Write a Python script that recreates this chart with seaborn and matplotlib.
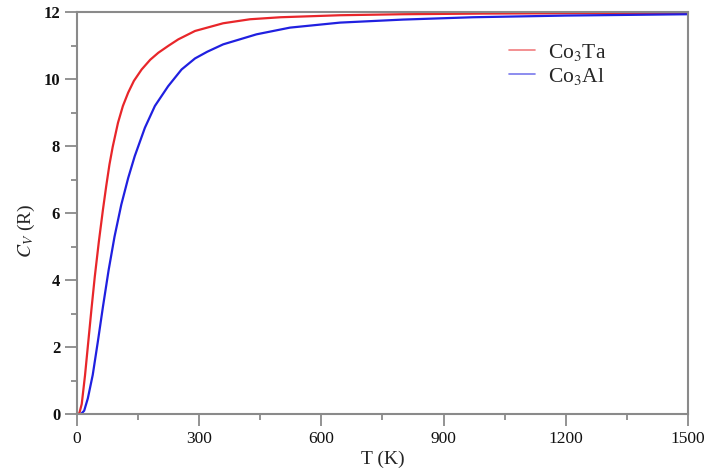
import matplotlib
matplotlib.use("Agg")
import matplotlib.pyplot as plt
import seaborn as sns
import pandas as pd
from matplotlib.ticker import MultipleLocator
from matplotlib.lines import Line2D

# Data
t_ta = [0, 6, 12, 20, 28, 36, 44, 54, 64, 72, 80, 88, 101, 113, 126, 140, 159, 180,
        200, 225, 249, 290, 359, 425, 500, 646, 800, 1000, 1200, 1500]
cv_ta = [0, 0.02, 0.3, 1.15, 2.15, 3.15, 4.1, 5.15, 6.1, 6.8, 7.45, 7.98, 8.7, 9.2, 9.6,
         9.95, 10.29, 10.58, 10.79, 11.0, 11.19, 11.44, 11.67, 11.79, 11.85, 11.91,
         11.94, 11.96, 11.97, 11.98]
t_al = [0, 10, 18, 27, 39, 51.5, 64, 78, 92.5, 109, 126, 142, 167, 191.5, 224, 257,
        290, 320, 359, 441, 523, 646, 800, 972, 1200, 1500]
cv_al = [0, 0, 0.1, 0.47, 1.17, 2.16, 3.2, 4.3, 5.3, 6.25, 7.05, 7.7, 8.55, 9.2, 9.79,
         10.29, 10.62, 10.82, 11.04, 11.34, 11.54, 11.69, 11.78, 11.85, 11.9, 11.94]
labels = ["Co$_3$Ta", "Co$_3$Al"]
colors = ["#e8262a", "#2020e0"]

df = pd.concat([
    pd.DataFrame({"T": t_ta, "Cv": cv_ta, "s": labels[0]}),
    pd.DataFrame({"T": t_al, "Cv": cv_al, "s": labels[1]}),
])

sns.set_style("white")
plt.rcParams["font.family"] = ["Liberation Serif", "DejaVu Serif"]
plt.rcParams["mathtext.fontset"] = "stix"

fig = plt.figure(figsize=(7.05, 4.7), dpi=100)
ax = fig.add_axes([0.109, 0.119, 0.867, 0.855])
sns.lineplot(data=df, x="T", y="Cv", hue="s", palette=colors, sort=False,
             linewidth=1.6, ax=ax, legend=False)

ax.set_xlim(0, 1500)
ax.set_ylim(0, 12)
ax.xaxis.set_major_locator(MultipleLocator(300))
ax.xaxis.set_minor_locator(MultipleLocator(150))
ax.yaxis.set_major_locator(MultipleLocator(2))
ax.yaxis.set_minor_locator(MultipleLocator(1))
gc = "#8a8a8a"
for sp in ax.spines.values():
    sp.set_color(gc)
    sp.set_linewidth(1.5)
    sp.set_visible(True)
ax.tick_params(which="major", direction="out", length=8.5, width=1.3, color=gc,
               labelsize=12.5, labelcolor="#111111", left=True, bottom=True)
ax.tick_params(which="minor", direction="out", length=4.5, width=1.3, color=gc,
               left=True, bottom=True)
ax.tick_params(axis="y", which="major", labelsize=12)
for lab in ax.get_yticklabels():
    lab.set_fontweight("bold")

ax.set_xlabel("T (K)", fontsize=14, labelpad=3)
ax.set_ylabel("$C_V$ (R)", fontsize=14)
ax.yaxis.set_label_coords(-0.066, 0.455)

handles = [Line2D([], [], color=c, lw=1.2, alpha=0.6) for c in colors]
ax.legend(handles, labels, loc="upper left", bbox_to_anchor=(0.675, 0.975), frameon=False,
          fontsize=15.5, handlelength=1.2, handletextpad=0.6, labelspacing=0.15)

fig.savefig("out.png", dpi=100)
